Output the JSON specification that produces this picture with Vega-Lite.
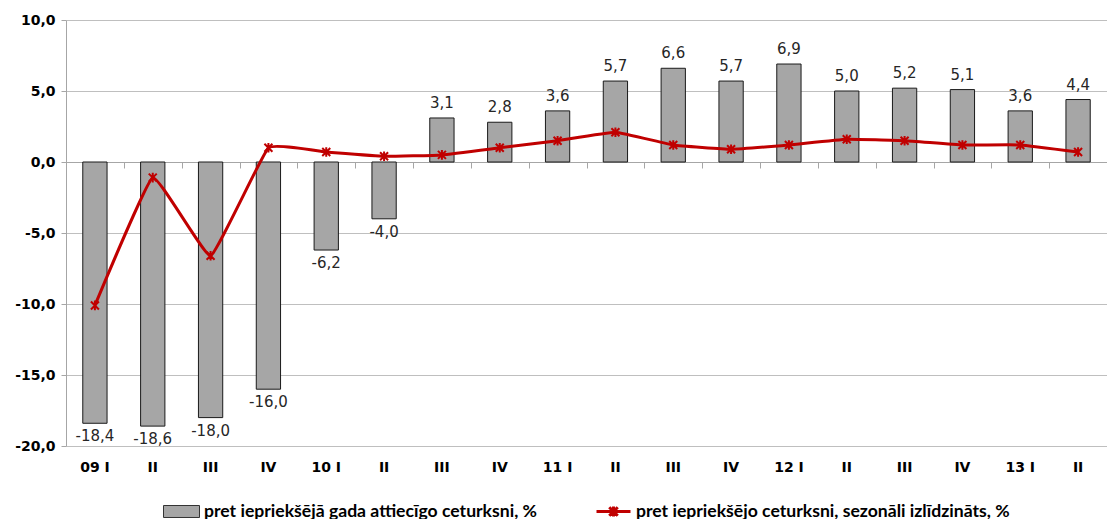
{
  "$schema": "https://vega.github.io/schema/vega-lite/v6.json",
  "width": 1041,
  "height": 426,
  "autosize": {"type": "none"},
  "padding": {"left": 66, "top": 20, "right": 0, "bottom": 73},
  "background": "white",
  "config": {
    "view": {"stroke": null},
    "locale": {"number": {"decimal": ",", "thousands": " ", "grouping": [3], "currency": ["", ""], "minus": "-"}},
    "font": "DejaVu Sans",
    "legend": {"layout": {"bottom": {"anchor": "middle", "direction": "horizontal", "margin": 58}}}
  },
  "data": {
    "values": [
      {"k": "09 I", "bar": -18.4, "line": -10.1},
      {"k": "II 09", "bar": -18.6, "line": -1.1},
      {"k": "III 09", "bar": -18.0, "line": -6.6},
      {"k": "IV 09", "bar": -16.0, "line": 1.0},
      {"k": "10 I", "bar": -6.2, "line": 0.7},
      {"k": "II 10", "bar": -4.0, "line": 0.4},
      {"k": "III 10", "bar": 3.1, "line": 0.5},
      {"k": "IV 10", "bar": 2.8, "line": 1.0},
      {"k": "11 I", "bar": 3.6, "line": 1.5},
      {"k": "II 11", "bar": 5.7, "line": 2.1},
      {"k": "III 11", "bar": 6.6, "line": 1.2},
      {"k": "IV 11", "bar": 5.7, "line": 0.9},
      {"k": "12 I", "bar": 6.9, "line": 1.2},
      {"k": "II 12", "bar": 5.0, "line": 1.6},
      {"k": "III 12", "bar": 5.2, "line": 1.5},
      {"k": "IV 12", "bar": 5.1, "line": 1.2},
      {"k": "13 I", "bar": 3.6, "line": 1.2},
      {"k": "II 13", "bar": 4.4, "line": 0.7}
    ]
  },
  "resolve": {"axis": {"x": "independent"}},
  "layer": [
    {
      "mark": {"type": "bar", "width": {"band": 0.42}, "stroke": "#1a1a1a", "strokeWidth": 1},
      "encoding": {
        "x": {
          "field": "k", "type": "nominal", "sort": null,
          "scale": {"paddingInner": 0, "paddingOuter": 0},
          "axis": {
            "title": null, "orient": "bottom", "domain": false, "ticks": false, "grid": false,
            "labelAngle": 0, "labelFont": "DejaVu Sans", "labelFontWeight": "bold", "labelFontSize": 14,
            "labelColor": "#000000", "labelPadding": 14,
            "labelExpr": "length(datum.value) == 4 ? datum.value : split(datum.value, ' ')[0]"
          }
        },
        "y": {
          "field": "bar", "type": "quantitative",
          "scale": {"domain": [-20, 10], "nice": false, "zero": false},
          "axis": {
            "title": null, "values": [-20, -15, -10, -5, 0, 5, 10], "format": ".1f",
            "labelFont": "DejaVu Sans", "labelFontWeight": "bold", "labelFontSize": 14, "labelColor": "#000000",
            "labelPadding": 6, "tickSize": 5, "tickColor": "#a6a6a6", "domainColor": "#a6a6a6",
            "gridColor": "#bfbfbf", "gridWidth": 1
          }
        },
        "fill": {
          "datum": "pret iepriekšējā gada attiecīgo ceturksni, %",
          "type": "nominal",
          "scale": {"domain": ["pret iepriekšējā gada attiecīgo ceturksni, %"], "range": ["#a6a6a6"]},
          "legend": {
            "title": null, "orient": "bottom", "direction": "horizontal", "offset": 19,
            "labelFont": "Lato", "labelFontWeight": "bold", "labelFontSize": 17.6, "labelColor": "#000000",
            "labelOffset": 4, "labelLimit": 500,
            "symbolType": "M-1,-0.333H1V0.333H-1Z", "symbolSize": 1296,
            "symbolStrokeColor": "#333333", "symbolStrokeWidth": 1, "symbolOpacity": 1
          }
        }
      }
    },
    {
      "mark": {"type": "line", "interpolate": "cardinal", "tension": 0.7, "strokeWidth": 3},
      "encoding": {
        "x": {
          "field": "k", "type": "nominal", "sort": null,
          "axis": {
            "title": null, "orient": "bottom", "offset": -284, "labels": false, "grid": false,
            "ticks": true, "tickBand": "extent", "tickSize": 6, "tickColor": "#a6a6a6",
            "domain": true, "domainColor": "#a6a6a6", "domainWidth": 1
          }
        },
        "y": {"field": "line", "type": "quantitative"},
        "stroke": {
          "datum": "pret iepriekšējo ceturksni, sezonāli izlīdzināts, %", "type": "nominal",
          "scale": {"domain": ["pret iepriekšējo ceturksni, sezonāli izlīdzināts, %"], "range": ["#c00000"]},
          "legend": {
            "title": null, "orient": "bottom", "direction": "horizontal", "offset": 19,
            "labelFont": "Lato", "labelFontWeight": "bold", "labelFontSize": 17.6, "labelColor": "#000000",
            "labelOffset": 4, "labelLimit": 500,
            "symbolType": "M-1,0H1M-0.25,-0.25L0.25,0.25M-0.25,0.25L0.25,-0.25M0,-0.3V0.3",
            "symbolSize": 1156, "symbolStrokeWidth": 3, "symbolFillColor": "transparent", "symbolOpacity": 1
          }
        }
      }
    },
    {
      "mark": {"type": "point", "shape": "M-1,-1L1,1M-1,1L1,-1M0,-1.2V1.2", "size": 64, "filled": false, "stroke": "#c00000", "strokeWidth": 2, "opacity": 1},
      "encoding": {
        "x": {"field": "k", "type": "nominal", "sort": null, "axis": null},
        "y": {"field": "line", "type": "quantitative"}
      }
    },
    {
      "transform": [{"filter": "datum.bar >= 0"}],
      "mark": {"type": "text", "baseline": "bottom", "dy": -7, "fontSize": 15, "font": "DejaVu Sans", "color": "#262626"},
      "encoding": {
        "x": {"field": "k", "type": "nominal", "sort": null, "axis": null},
        "y": {"field": "bar", "type": "quantitative"},
        "text": {"field": "bar", "type": "quantitative", "format": ".1f"}
      }
    },
    {
      "transform": [{"filter": "datum.bar < 0"}],
      "mark": {"type": "text", "baseline": "top", "dy": 6, "fontSize": 15, "font": "DejaVu Sans", "color": "#262626"},
      "encoding": {
        "x": {"field": "k", "type": "nominal", "sort": null, "axis": null},
        "y": {"field": "bar", "type": "quantitative"},
        "text": {"field": "bar", "type": "quantitative", "format": ".1f"}
      }
    }
  ]
}
